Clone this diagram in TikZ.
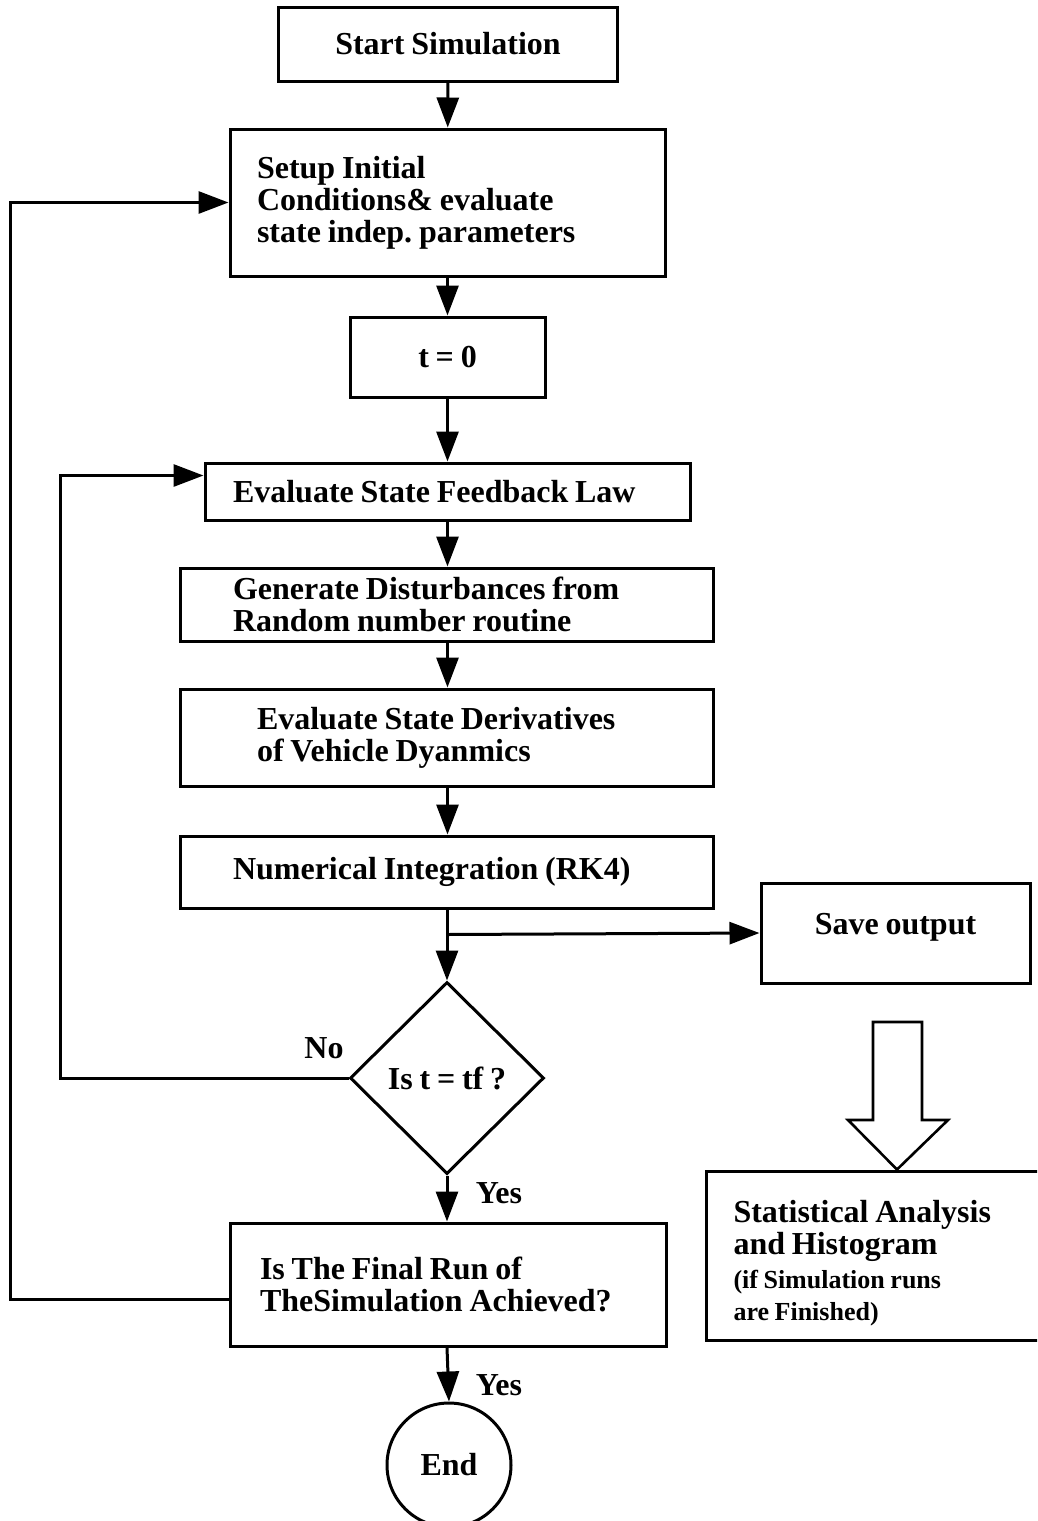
\documentclass[tikz,border=0pt]{standalone}
\usepackage{fontspec}
\setmainfont{Liberation Serif}[WordSpace=0.85]
\usetikzlibrary{arrows.meta,shapes.geometric}

\begin{document}
\frenchspacing
\begin{tikzpicture}[x=1pt,y=-1pt,
  font=\bfseries\fontsize{32}{32}\selectfont,
  line width=3pt,
  flow/.style={-{Triangle[length=30pt,width=22pt]}},
  box/.style={draw,rectangle,inner ysep=0pt,align=flush left},
  cbox/.style={draw,rectangle,inner sep=0pt,align=center},
  lbl/.style={inner sep=0pt}]

\clip (0,0) rectangle (1037,1521);

% process boxes
\node[cbox,minimum width=339,minimum height=74] (start) at (448,44) {Start Simulation};
\node[box,minimum height=147,text width=381,inner xsep=27] (setup) at (447.5,202.5)
  {Setup Initial\\Conditions\& evaluate\\state indep. parameters};
\node[cbox,minimum width=195,minimum height=80] (tzero) at (447.5,357) {t = 0};
\node[box,minimum height=57,text width=429,inner xsep=28] (feedback) at (447.5,491.5)
  {Evaluate State Feedback Law};
\node[box,minimum height=73,text width=427,inner xsep=53] (disturb) at (446.5,604.5)
  {Generate Disturbances from\\Random number routine};
\node[box,minimum height=97,text width=379,inner xsep=77] (deriv) at (446.5,737.5)
  {Evaluate State Derivatives\\of Vehicle Dyanmics};
\node[box,minimum height=72,text width=427,inner xsep=53] (integ) at (446.5,872)
  {Numerical Integration (RK4)};
\node[cbox,minimum width=269,minimum height=100,text depth=18pt] (save) at (895.5,933) {Save output};

% decision
\node[draw,diamond,inner sep=0pt,minimum width=194,minimum height=192] (check) at (447,1078)
  {Is t = tf ?};

\node[box,minimum height=123,text width=376,inner xsep=30] (final) at (448,1284.5)
  {Is The Final Run of\\TheSimulation Achieved?};

\node[draw,circle,inner sep=0pt,minimum size=124] (end) at (449,1465) {End};

% results box, running past the right edge
\node[box,minimum height=169,text width=306,inner xsep=27,anchor=west] (stats) at (705,1255.5)
  {\rule{0pt}{38pt}Statistical Analysis\\and Histogram\\[2pt]
   {\fontsize{26}{32}\selectfont (if Simulation runs\\are Finished)}};

% hollow arrow towards the results box
\draw[line width=2.6pt,line join=miter] (873,1022) -- (922,1022) -- (922,1120) -- (948,1120)
  -- (stats.north -| 897,0) -- (848,1120) -- (873,1120) -- cycle;

% main flow
\draw[flow] (start) -- (setup);
\draw[flow] (setup) -- (tzero);
\draw[flow] (tzero) -- (feedback);
\draw[flow] (feedback.south -| tzero) -- (disturb.north -| tzero);
\draw[flow] (disturb.south -| tzero) -- (deriv.north -| tzero);
\draw[flow] (deriv.south -| tzero) -- (integ.north -| tzero);
\draw[flow] (integ.south -| check) -- (check.north);
\draw[flow] (integ.south -| check) ++(0,25) -- (save.west |- 0,933);
\draw[flow] (check.south) -- (final.north -| check);
\draw[flow] (final.south -| check) -- (end.north);

% loops back
\draw[flow] (check.west) -- ++(-288,0) |- ([yshift=16pt]feedback.west);
\draw[flow] ([yshift=-15pt]final.west) -- ++(-218,0) |- (setup.west);

% branch labels
\node[lbl] (no) at (324,1048) {No};
\node[lbl] (yes1) at (499,1193) {Yes};
\node[lbl] (yes2) at (499,1385) {Yes};
\end{tikzpicture}
\end{document}
